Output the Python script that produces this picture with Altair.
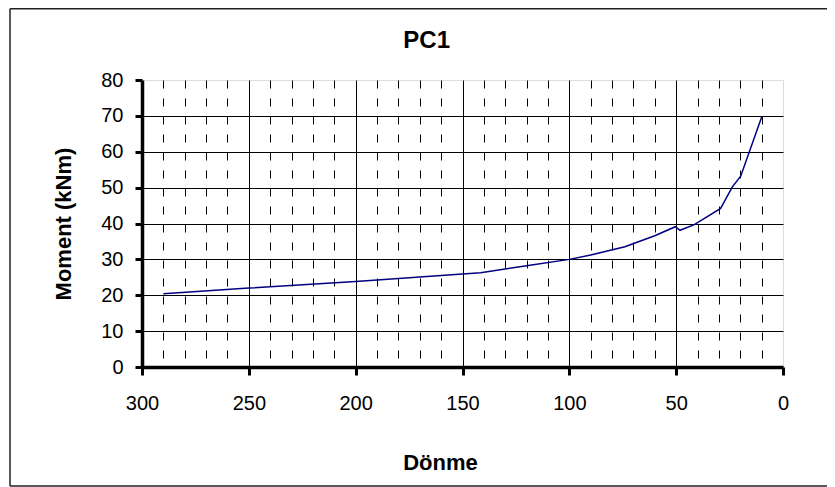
import altair as alt
import pandas as pd

# Data
donme = [290, 250, 200, 150, 141.5, 120, 100, 90, 74, 60, 50.4, 48.2, 41.5, 29.2, 23.7, 19.8, 9.9]
moment = [20.4, 22.0, 23.8, 25.9, 26.3, 28.2, 30.0, 31.2, 33.5, 36.6, 39.1, 38.1, 39.7, 44.2, 50.2, 53.2, 69.8]

x_ticks = list(range(0, 301, 10))
y_ticks = list(range(0, 81, 10))
chart_title = "PC1"

FONT = "Liberation Sans"
W, H = 641, 287

df = pd.DataFrame({"Dönme": donme, "Moment": moment, "i": list(range(len(donme)))})

x_axis = alt.Axis(
    values=x_ticks,
    labelExpr="datum.value % 50 === 0 ? datum.label : ''",
    grid=True,
    gridColor={"condition": {"test": "datum.value === 0 || datum.value === 300", "value": "transparent"}, "value": "black"},
    gridDash={"condition": {"test": "datum.value % 50 === 0", "value": []}, "value": [8, 10]},
    gridWidth=1,
    tickOpacity={"condition": {"test": "datum.value % 50 === 0", "value": 1}, "value": 0},
    tickSize=8, tickWidth=3, tickColor="black",
    domainColor="black", domainWidth=3.5,
    labelFont=FONT, labelFontSize=20, labelColor="black",
    labelBaseline="alphabetic", labelPadding=34,
    labelFlush=False, labelOverlap=False,
    title="Dönme", titleFont=FONT, titleFontSize=22, titleFontWeight="bold", titleColor="black",
    titleX=298, titleY=102, titleAlign="center", titleBaseline="alphabetic",
)

y_axis = alt.Axis(
    values=y_ticks,
    grid=True,
    gridColor={"condition": {"test": "datum.value === 0 || datum.value === 80", "value": "transparent"}, "value": "black"},
    gridWidth=1,
    tickSize=7, tickWidth=3, tickColor="black",
    domainColor="black", domainWidth=3.5,
    labelFont=FONT, labelFontSize=20, labelColor="black",
    labelPadding=12, labelBaseline="middle",
    labelFlush=False, labelOverlap=False,
    title="Moment (kNm)", titleFont=FONT, titleFontSize=22, titleFontWeight="bold", titleColor="black",
    titleAngle=270, titleX=-72, titleY=143.5, titleAlign="center", titleBaseline="alphabetic",
)

line = alt.Chart(df).mark_line(color="#000080", strokeWidth=1.5, clip=True).encode(
    x=alt.X("Dönme:Q", scale=alt.Scale(domain=[0, 300], reverse=True, nice=False), axis=x_axis),
    y=alt.Y("Moment:Q", scale=alt.Scale(domain=[0, 80], nice=False), axis=y_axis),
    order="i:Q",
)

one = pd.DataFrame({"a": [0]})
title_mark = alt.Chart(one).mark_text(
    text=chart_title, font=FONT, fontSize=24, fontWeight="bold", color="black",
    align="center", baseline="alphabetic",
).encode(x=alt.value(284.7), y=alt.value(-31.7))

left, top, bottom, right = -132, -71.3, 406, 700
frame_top = alt.Chart(one).mark_rule(color="#222222", strokeWidth=1.5).encode(
    x=alt.value(left), x2=alt.value(right), y=alt.value(top))
frame_left = alt.Chart(one).mark_rule(color="#222222", strokeWidth=1.5).encode(
    x=alt.value(left), y=alt.value(top), y2=alt.value(bottom))
frame_bottom = alt.Chart(one).mark_rule(color="#222222", strokeWidth=1.5).encode(
    x=alt.value(left), x2=alt.value(right), y=alt.value(bottom))

chart = alt.layer(line, title_mark, frame_top, frame_left, frame_bottom).properties(
    width=W, height=H,
    autosize=alt.AutoSizeParams(type="none"),
    padding={"left": 134, "top": 72, "right": 44, "bottom": 120},
).configure_view(stroke="#808080", strokeWidth=2).configure(background="white")

chart.save("out.html", embed_options={"renderer": "svg", "actions": False})
